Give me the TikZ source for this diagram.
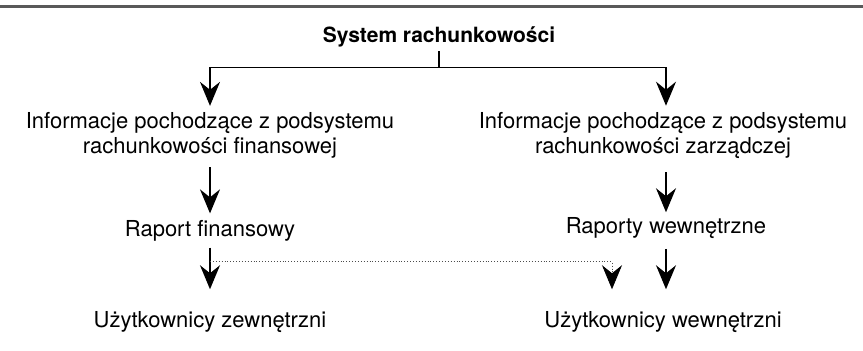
\documentclass[tikz,border=0pt]{standalone}
\usepackage{fontspec}
\setmainfont{TeX Gyre Heros}
\usepackage{tikz}
\usetikzlibrary{arrows.meta}
\tikzset{>={Stealth[length=24,width=20,inset=8]}}
\usetikzlibrary{calc}
\colorlet{myrulegray}{black!65}
\colorlet{mydotgray}{black!70}

\begin{document}
\begin{tikzpicture}[x=1pt,y=-1pt,
        txt/.style={font=\fontsize{22}{25}\selectfont,align=center,inner sep=0pt},
        conn/.style={line width=1.4pt}]

        \useasboundingbox (0,0) rectangle (863,351);

        % RULE
        \draw[myrulegray,line width=3pt] (0,6) -- (863,6);

        % NODES
        \node[txt,font=\fontsize{21}{25}\selectfont\bfseries] (sys) at (439,37) {System rachunkowości};
        \node[txt] (infoF) at (210,135) {Informacje pochodzące z podsystemu\\rachunkowości finansowej};
        \node[txt] (infoZ) at (663,135) {Informacje pochodzące z podsystemu\\rachunkowości zarządczej};
        \node[txt] (rapF) at (210,231) {Raport finansowy};
        \node[txt] (rapW) at (666,228) {Raporty wewnętrzne};
        \node[txt] (uzZ) at (210,322) {Użytkownicy zewnętrzni};
        \node[txt] (uzW) at (663,322) {Użytkownicy wewnętrzni};

        % COORDINATES
        \coordinate (split) at ($(sys.south)+(0,20)$);
        \coordinate (branch) at ($(rapF.south)+(0,20)$);
        \coordinate (drop) at (612,0);

        % LINES
        \draw[conn] (sys.south) ++(0,4) -- (split);
        \draw[conn,->] (split) -| ([yshift=6]infoF.north);
        \draw[conn,->] (split) -| ([yshift=6]infoZ.north -| rapW);
        \draw[conn,->] (infoF.south) ++(0,9) -- ([yshift=7]rapF.north);
        \draw[conn,->] (infoZ.south -| rapW) ++(0,14) -- ([yshift=5]rapW.north);
        \draw[conn,->] (rapF.south) ++(0,6) -- ([yshift=22]uzZ.north);
        \draw[conn,->] (rapW.south) ++(0,10) -- ([yshift=22]uzW.north -| rapW);
        \draw[mydotgray,line width=0.9pt,dotted,-{>[black]}] (branch) -| ([yshift=22]drop |- uzW.north);

\end{tikzpicture}
\end{document}
